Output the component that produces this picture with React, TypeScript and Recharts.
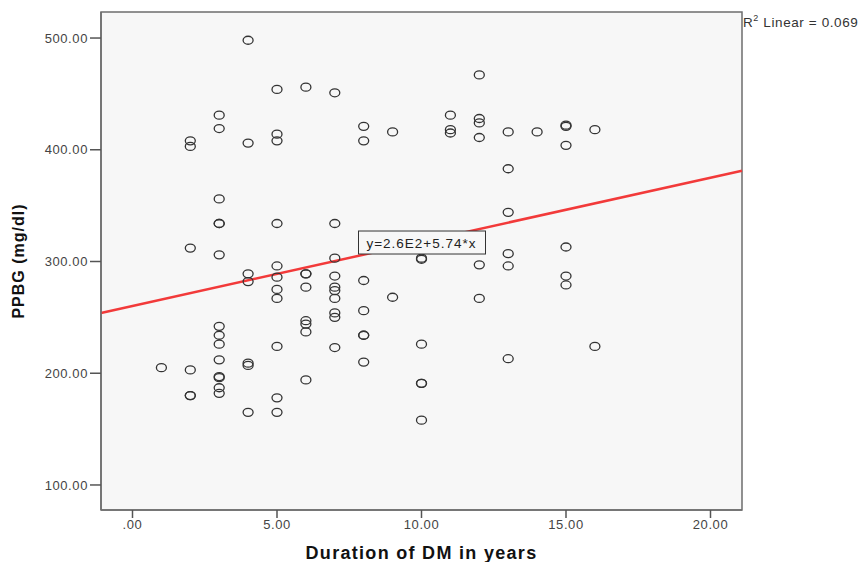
import { ScatterChart, Scatter, XAxis, YAxis, ReferenceLine, ReferenceArea, ReferenceDot } from 'recharts'

// Duration of DM (years) and PPBG (mg/dl)
const DURATION = [
  1,
  2, 2, 2, 2, 2, 2,
  3, 3, 3, 3, 3, 3, 3, 3, 3, 3, 3, 3, 3, 3,
  4, 4, 4, 4, 4, 4, 4,
  5, 5, 5, 5, 5, 5, 5, 5, 5, 5, 5,
  6, 6, 6, 6, 6, 6, 6, 6,
  7, 7, 7, 7, 7, 7, 7, 7, 7, 7,
  8, 8, 8, 8, 8, 8, 8,
  9, 9,
  10, 10, 10, 10, 10, 10,
  11, 11, 11,
  12, 12, 12, 12, 12, 12,
  13, 13, 13, 13, 13, 13,
  14,
  15, 15, 15, 15, 15, 15,
  16, 16,
]
const PPBG = [
  205,
  408, 403, 312, 203, 180, 180,
  431, 419, 356, 334, 334, 306, 242, 234, 226, 212, 197, 196, 187, 182,
  498, 406, 289, 282, 209, 207, 165,
  454, 414, 408, 334, 296, 286, 275, 267, 224, 178, 165,
  456, 289, 289, 277, 247, 244, 237, 194,
  451, 334, 303, 287, 277, 274, 267, 254, 250, 223,
  421, 408, 283, 256, 234, 234, 210,
  416, 268,
  303, 302, 226, 191, 191, 158,
  431, 418, 415,
  467, 428, 424, 411, 297, 267,
  416, 383, 344, 307, 296, 213,
  416,
  422, 421, 404, 313, 287, 279,
  418, 224,
]

const X_TICKS = [0, 5, 10, 15, 20]
const Y_TICKS = [100, 200, 300, 400, 500]
const X_DOMAIN: [number, number] = [-1.09, 21.09]
const Y_DOMAIN: [number, number] = [77.6, 523.3]

// linear fit shown in the chart
const FIT_INTERCEPT = 260.2
const FIT_SLOPE = 5.74
const FIT_TEXT = 'y=2.6E2+5.74*x'
const FIT_LABEL_AT = { x: 10, y: 317 }
const R2_TEXT = '0.069'

const FONT = "'Liberation Sans', Arial, sans-serif"

const points = DURATION.map((d, i) => ({ duration: d, ppbg: PPBG[i] }))
const fit = (x: number) => FIT_INTERCEPT + FIT_SLOPE * x

const fmtX = (v: number) => (v === 0 ? '.00' : v.toFixed(2))
const fmtY = (v: number) => v.toFixed(2)

const tickStyle = { fontFamily: FONT, fontSize: 13, fill: '#444', letterSpacing: 0.6 }

function Ring(props: any) {
  const { cx, cy } = props
  if (cx == null || cy == null) return <g />
  return <ellipse cx={cx} cy={cy} rx={5} ry={4} fill="none" stroke="#333" strokeWidth={1.3} />
}

function FitBox(props: any) {
  const { cx, cy } = props
  return (
    <g>
      <rect x={cx - 63} y={cy - 11.5} width={127} height={23} fill="#f7f7f7" stroke="#333" strokeWidth={1} />
      <text x={cx} y={cy + 5} textAnchor="middle" fontFamily={FONT} fontSize={13.5} letterSpacing={1} fill="#222">
        {FIT_TEXT}
      </text>
    </g>
  )
}

export default function App() {
  return (
    <div style={{ position: 'absolute', left: 0, top: 0, width: 863, height: 562, background: '#fff', fontFamily: FONT }}>
      <ScatterChart width={863} height={562} margin={{ top: 12, right: 121, bottom: 0, left: 0 }}>
        <ReferenceArea
          x1={X_DOMAIN[0]}
          x2={X_DOMAIN[1]}
          y1={Y_DOMAIN[0]}
          y2={Y_DOMAIN[1]}
          fill="#f7f7f7"
          fillOpacity={1}
          stroke="#6e6e6e"
          strokeWidth={1.5}
          ifOverflow="visible"
        />
        <XAxis
          type="number"
          dataKey="duration"
          domain={X_DOMAIN}
          ticks={X_TICKS}
          tickFormatter={fmtX}
          allowDataOverflow
          height={52}
          tickSize={8}
          tickMargin={2}
          axisLine={{ stroke: '#6e6e6e', strokeWidth: 1.5 }}
          tickLine={{ stroke: '#555', strokeWidth: 1.5 }}
          tick={tickStyle}
          label={{
            value: 'Duration of DM in years',
            position: 'insideBottom',
            offset: 3,
            style: { fontFamily: FONT, fontSize: 18, fontWeight: 700, fill: '#111', letterSpacing: 1.3 },
          }}
        />
        <YAxis
          type="number"
          dataKey="ppbg"
          domain={Y_DOMAIN}
          ticks={Y_TICKS}
          tickFormatter={fmtY}
          allowDataOverflow
          width={101}
          tickSize={11}
          tickMargin={2}
          axisLine={{ stroke: '#6e6e6e', strokeWidth: 1.5 }}
          tickLine={{ stroke: '#555', strokeWidth: 1.5 }}
          tick={tickStyle}
          label={{
            value: 'PPBG (mg/dl)',
            angle: -90,
            position: 'insideLeft',
            offset: 18,
            style: { textAnchor: 'middle', fontFamily: FONT, fontSize: 16, fontWeight: 700, fill: '#111', letterSpacing: 1 },
          }}
        />
        <ReferenceLine
          segment={[
            { x: X_DOMAIN[0], y: fit(X_DOMAIN[0]) },
            { x: X_DOMAIN[1], y: fit(X_DOMAIN[1]) },
          ]}
          stroke="#f23a3a"
          strokeWidth={2.5}
          ifOverflow="visible"
        />
        <Scatter data={points} shape={<Ring />} isAnimationActive={false} />
        <ReferenceDot x={FIT_LABEL_AT.x} y={FIT_LABEL_AT.y} shape={<FitBox />} ifOverflow="visible" />
      </ScatterChart>
      <div style={{ position: 'absolute', left: 743, top: 13, fontSize: 13.5, letterSpacing: 0.6, color: '#333', whiteSpace: 'nowrap' }}>
        R<sup style={{ fontSize: 9 }}>2</sup> Linear = {R2_TEXT}
      </div>
    </div>
  )
}
